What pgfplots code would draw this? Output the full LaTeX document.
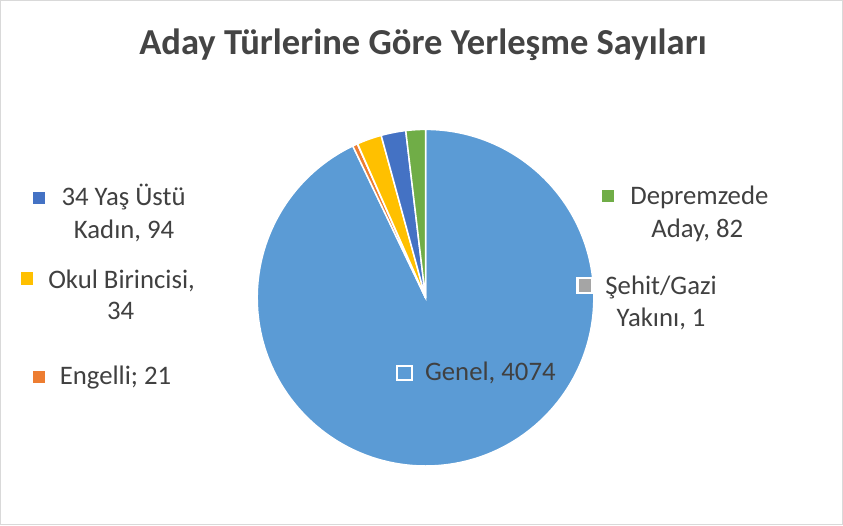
\documentclass[border=0pt]{standalone}
\usepackage{pgfplots}
\pgfplotsset{compat=1.18}
\usepackage{fontspec}
\setmainfont{Carlito}
\definecolor{cGenel}{HTML}{5B9BD5}
\definecolor{cEngelli}{HTML}{ED7D31}
\definecolor{cSehit}{HTML}{A5A5A5}
\definecolor{cOkul}{HTML}{FFC000}
\definecolor{cYas}{HTML}{4472C4}
\definecolor{cDeprem}{HTML}{70AD47}
\definecolor{ctext}{HTML}{404040}
\definecolor{ctitle}{HTML}{444444}
\definecolor{cborder}{HTML}{D9D9D9}
% slice sizes as drawn in the reference (clockwise from 12 o'clock)
\def\vGenel{4074}
\def\vEngelli{21}
\def\vSehit{1}
\def\vOkul{104}
\def\vYas{104}
\def\vDeprem{82}
\pgfmathsetmacro{\T}{\vGenel+\vEngelli+\vSehit+\vOkul+\vYas+\vDeprem}
\pgfmathsetmacro{\aA}{90}
\pgfmathsetmacro{\aB}{\aA-360*(\vGenel/\T)}
\pgfmathsetmacro{\aC}{\aB-360*(\vEngelli/\T)}
\pgfmathsetmacro{\aD}{\aC-360*(\vSehit/\T)}
\pgfmathsetmacro{\aE}{\aD-360*(\vOkul/\T)}
\pgfmathsetmacro{\aF}{\aE-360*(\vYas/\T)}
\pgfmathsetmacro{\aG}{-270}
\def\cx{425.5}\def\cy{229.7}\def\R{167.5bp}
\begin{document}%
\begin{tikzpicture}
\begin{axis}[x=1bp,y=1bp,xmin=0,xmax=843,ymin=0,ymax=528,enlargelimits=false,
  axis lines=none,xtick=\empty,ytick=\empty,scale only axis,clip=false]
\draw[cborder,line width=1bp] (axis cs:2.5,3.5) rectangle (axis cs:840.5,525.5);
% title
\node[anchor=base,text=ctitle,font=\fontsize{36.4bp}{44bp}\selectfont\bfseries] at (axis cs:423,471.3) {Aday Türlerine Göre Yerleşme Sayıları};
% wedges
\filldraw[fill=cGenel,draw=white,line width=1.5bp] (axis cs:\cx,\cy) -- ++(\aA:\R) arc[start angle=\aA,end angle=\aB,radius=\R] -- cycle;
\filldraw[fill=cEngelli,draw=white,line width=1.5bp] (axis cs:\cx,\cy) -- ++(\aB:\R) arc[start angle=\aB,end angle=\aC,radius=\R] -- cycle;
\filldraw[fill=cSehit,draw=white,line width=1.5bp] (axis cs:\cx,\cy) -- ++(\aC:\R) arc[start angle=\aC,end angle=\aD,radius=\R] -- cycle;
\filldraw[fill=cOkul,draw=white,line width=1.5bp] (axis cs:\cx,\cy) -- ++(\aD:\R) arc[start angle=\aD,end angle=\aE,radius=\R] -- cycle;
\filldraw[fill=cYas,draw=white,line width=1.5bp] (axis cs:\cx,\cy) -- ++(\aE:\R) arc[start angle=\aE,end angle=\aF,radius=\R] -- cycle;
\filldraw[fill=cDeprem,draw=white,line width=1.5bp] (axis cs:\cx,\cy) -- ++(\aF:\R) arc[start angle=\aF,end angle=\aG,radius=\R] -- cycle;
% labels
\tikzset{lbl/.style={anchor=base,text=ctext,font=\fontsize{26.6bp}{32bp}\selectfont},
 key/.style={draw=white,line width=2bp,minimum size=14.5bp,inner sep=0pt}}
\node[key,fill=cYas] at (axis cs:41,329) {};
\node[lbl] at (axis cs:125,321) {34 Yaş Üstü};
\node[lbl] at (axis cs:125.5,288.5) {Kadın, 94};
\node[key,fill=cOkul] at (axis cs:29,249) {};
\node[lbl] at (axis cs:123,239) {Okul Birincisi,};
\node[lbl] at (axis cs:122,208) {34};
\node[key,fill=cEngelli] at (axis cs:41,151) {};
\node[lbl] at (axis cs:117,143) {Engelli; 21};
\node[key,fill=cDeprem] at (axis cs:607,331) {};
\node[lbl] at (axis cs:698,322) {Depremzede};
\node[lbl] at (axis cs:696,289.7) {Aday, 82};
\node[key,fill=cSehit] at (axis cs:584,242) {};
\node[lbl] at (axis cs:660,233) {Şehit/Gazi};
\node[lbl] at (axis cs:660,201.3) {Yakını, 1};
\node[key,fill=cGenel] at (axis cs:404.5,154.7) {};
\node[lbl] at (axis cs:490,147.3) {Genel, 4074};
\end{axis}
\end{tikzpicture}%
\end{document}
